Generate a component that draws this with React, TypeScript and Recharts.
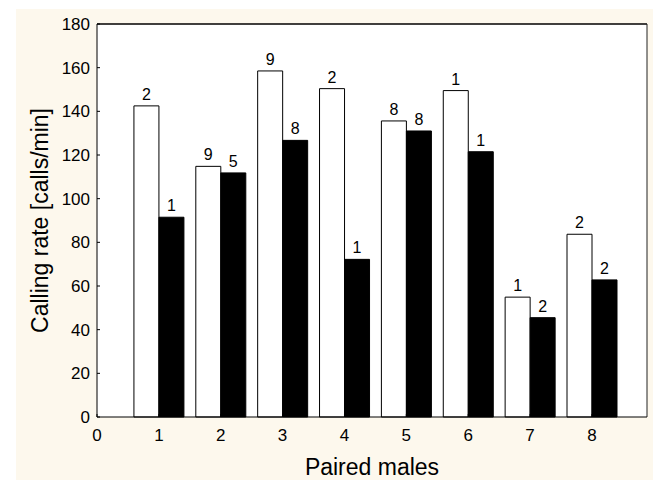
import React from "react";
import {
  BarChart,
  Bar,
  XAxis,
  YAxis,
  CartesianGrid,
  LabelList,
  ReferenceLine,
} from "recharts";

// values
const males = [1, 2, 3, 4, 5, 6, 7, 8];
const whiteRate = [142.5, 114.8, 158.5, 150.4, 135.6, 149.5, 54.9, 83.7];
const blackRate = [91.5, 111.8, 126.7, 72.2, 131.0, 121.5, 45.5, 62.8];
const whiteN = [2, 9, 9, 2, 8, 1, 1, 2];
const blackN = [1, 5, 8, 1, 8, 1, 2, 2];
const xTicks = [0, 1, 2, 3, 4, 5, 6, 7, 8];
const yTicks = [0, 20, 40, 60, 80, 100, 120, 140, 160, 180];

const XMAX = 8.89;
const FONT = '"Liberation Sans", Arial, Helvetica, sans-serif';
const BG = "#fdf8ed";

const data = males.map((m, i) => ({
  male: m,
  white: whiteRate[i],
  black: blackRate[i],
  nWhite: whiteN[i],
  nBlack: blackN[i],
}));

function YTick(props: any) {
  const { x, y, payload } = props;
  return (
    <g>
      <line x1={x + 7} x2={x + 10} y1={y} y2={y} stroke="#000" />
      <text x={x} y={y} dy={6} textAnchor="end" fontSize={17} fill="#000">
        {payload.value}
      </text>
    </g>
  );
}

function XTick(props: any) {
  const { x, y, payload } = props;
  return (
    <g>
      <line x1={x} x2={x} y1={y - 12} y2={y - 15} stroke="#000" />
      <text x={x} y={y} dy={12} textAnchor="middle" fontSize={17} fill="#000">
        {payload.value}
      </text>
    </g>
  );
}

// count label drawn above each bar
function NLabel(props: any) {
  const { x, y, width, value } = props;
  return (
    <text
      x={Number(x) + Number(width) / 2}
      y={Number(y) - 6}
      textAnchor="middle"
      fontSize={16}
      fill="#000"
    >
      {value}
    </text>
  );
}

export default function App() {
  return (
    <div
      style={{
        position: "absolute",
        left: 0,
        top: 0,
        width: 653,
        height: 480,
        background: "#fff",
        fontFamily: FONT,
      }}
    >
      <div
        style={{
          position: "absolute",
          left: 16,
          top: 9,
          width: 637,
          height: 471,
          background: BG,
        }}
      />
      <div style={{ position: "absolute", left: 0, top: 0 }}>
        <BarChart
          width={653}
          height={480}
          data={data}
          margin={{ top: 24, right: 6, left: 37, bottom: 0 }}
          barGap={0}
          barSize={25}
        >
          <CartesianGrid fill="#fff" horizontal={false} vertical={false} />
          <XAxis
            type="number"
            dataKey="male"
            domain={[0, XMAX]}
            ticks={xTicks}
            allowDataOverflow
            interval={0}
            tickLine={false}
            tickSize={0}
            tickMargin={12}
            height={63}
            axisLine={{ stroke: "#000" }}
            tick={<XTick />}
            label={{
              content: (p: any) => {
                const vb = p.viewBox;
                return (
                  <text
                    x={vb.x + vb.width / 2}
                    y={475}
                    textAnchor="middle"
                    fontSize={23}
                    fill="#000"
                  >
                    Paired males
                  </text>
                );
              },
            }}
          />
          <YAxis
            domain={[0, 180]}
            ticks={yTicks}
            width={60}
            interval={0}
            tickLine={false}
            tickSize={0}
            tickMargin={7}
            axisLine={{ stroke: "#000" }}
            tick={<YTick />}
            label={{
              content: (p: any) => {
                const vb = p.viewBox;
                const cy = vb.y + vb.height / 2;
                return (
                  <text
                    x={48}
                    y={cy}
                    transform={`rotate(-90 48 ${cy})`}
                    textAnchor="middle"
                    fontSize={23}
                    fill="#000"
                  >
                    Calling rate [calls/min]
                  </text>
                );
              },
            }}
          />
          <ReferenceLine y={180} stroke="#000" strokeWidth={1.3} />
          <ReferenceLine x={XMAX} stroke="#222" />
          <Bar dataKey="white" fill="#fff" stroke="#000" strokeWidth={1} isAnimationActive={false}>
            <LabelList dataKey="nWhite" content={<NLabel />} />
          </Bar>
          <Bar dataKey="black" fill="#000" stroke="#000" strokeWidth={1} isAnimationActive={false}>
            <LabelList dataKey="nBlack" content={<NLabel />} />
          </Bar>
        </BarChart>
      </div>
    </div>
  );
}
